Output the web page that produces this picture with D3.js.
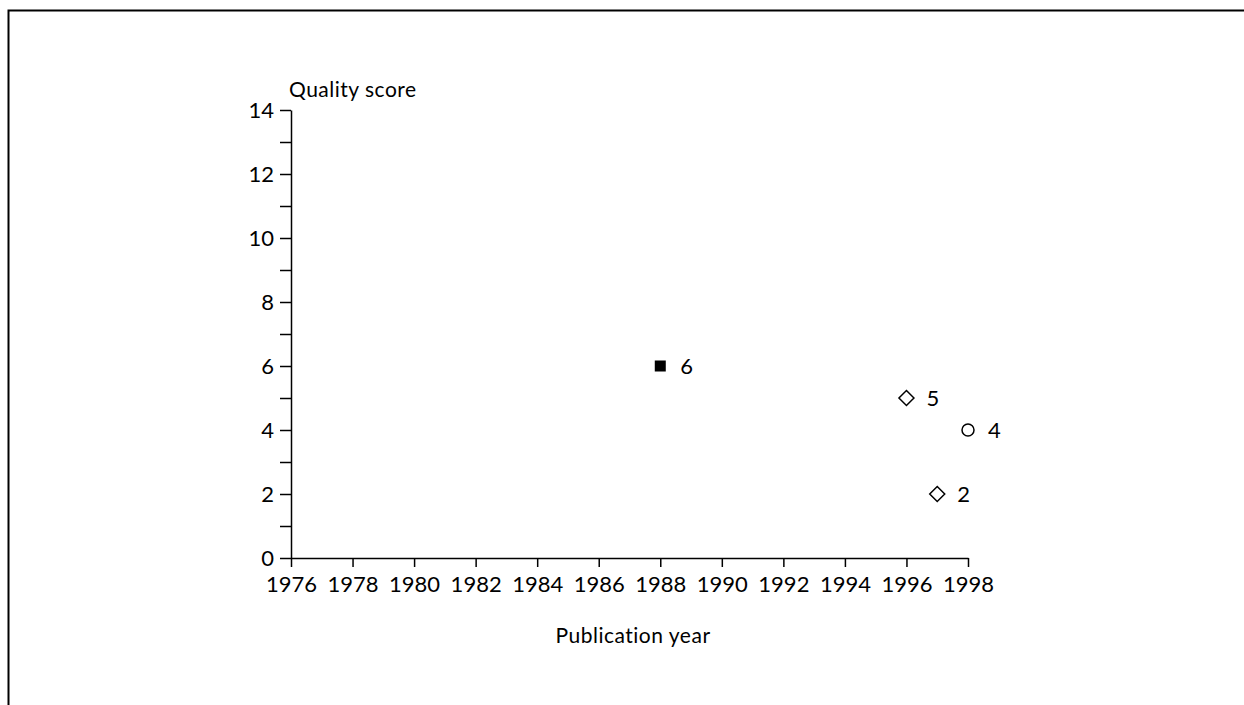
<!DOCTYPE html>
<html>
<head>
<meta charset="utf-8">
<script src="https://cdn.jsdelivr.net/npm/d3@7"></script>
<style>
  html, body { margin: 0; padding: 0; background: #fff; }
  svg { display: block; }
  text { font-family: Lato, "Open Sans", sans-serif; fill: #000; }
</style>
</head>
<body>
<svg id="chart" width="1244" height="705"></svg>
<script>
// Study quality scores by publication year
const years = [1988, 1996, 1998, 1997];
const scores = [6, 5, 4, 2];
const shapes = ["filledSquare", "diamond", "circle", "diamond"];
const xTickValues = [1976, 1978, 1980, 1982, 1984, 1986, 1988, 1990, 1992, 1994, 1996, 1998];
const yMajorTicks = [0, 2, 4, 6, 8, 10, 12, 14];
const yMinorTicks = [1, 3, 5, 7, 9, 11, 13];

const svg = d3.select("#chart");

// frame lines (top and left)
svg.append("path")
  .attr("d", "M8.5,705 L8.5,10.5 L1244,10.5")
  .attr("fill", "none")
  .attr("stroke", "#000")
  .attr("stroke-width", 2);

const x = d3.scaleLinear().domain([1976, 1998]).range([291, 968]);
const y = d3.scaleLinear().domain([0, 14]).range([558, 110]);

const fontSize = 21;
const tickFont = 22;

// x axis
const xAxis = svg.append("g")
  .attr("transform", `translate(0,${y(0)})`)
  .call(d3.axisBottom(x).tickValues(xTickValues).tickFormat(d3.format("d")).tickSize(9).tickPadding(9).tickSizeOuter(0));
xAxis.select(".domain").attr("stroke-width", 1.5);
xAxis.selectAll(".tick line").attr("stroke-width", 1.5);
xAxis.selectAll("text").style("font-size", tickFont + "px").style("font-family", "Lato, sans-serif");

// y axis: minor ticks then labelled major ticks
svg.append("g")
  .attr("transform", `translate(${x(1976)},0)`)
  .call(d3.axisLeft(y).tickValues(yMinorTicks).tickFormat("").tickSize(11).tickSizeOuter(0))
  .call(g => g.select(".domain").remove())
  .selectAll(".tick line").attr("stroke-width", 1.5);

const yAxis = svg.append("g")
  .attr("transform", `translate(${x(1976)},0)`)
  .call(d3.axisLeft(y).tickValues(yMajorTicks).tickSize(11).tickPadding(6).tickSizeOuter(0));
yAxis.select(".domain").attr("stroke-width", 1.5);
yAxis.selectAll(".tick line").attr("stroke-width", 1.5);
yAxis.selectAll("text").style("font-size", tickFont + "px").style("font-family", "Lato, sans-serif");

// axis titles
svg.append("text")
  .attr("x", 289).attr("y", 97)
  .style("font-size", fontSize + "px")
  .style("letter-spacing", "0.5px")
  .text("Quality score");

svg.append("text")
  .attr("x", 633).attr("y", 643)
  .attr("text-anchor", "middle")
  .style("font-size", fontSize + "px")
  .style("letter-spacing", "0.5px")
  .text("Publication year");

// points
const points = years.map((yr, i) => ({ year: yr, score: scores[i], shape: shapes[i] }));

const g = svg.append("g");
points.forEach(p => {
  const cx = x(p.year), cy = y(p.score);
  if (p.shape === "filledSquare") {
    g.append("rect")
      .attr("x", cx - 5.5).attr("y", cy - 5.5)
      .attr("width", 11).attr("height", 11)
      .attr("fill", "#000");
  } else if (p.shape === "diamond") {
    g.append("path")
      .attr("d", `M${cx},${cy - 7.5} L${cx + 7.5},${cy} L${cx},${cy + 7.5} L${cx - 7.5},${cy} Z`)
      .attr("fill", "#fff").attr("stroke", "#000").attr("stroke-width", 1.5);
  } else {
    g.append("circle")
      .attr("cx", cx).attr("cy", cy).attr("r", 6)
      .attr("fill", "#fff").attr("stroke", "#000").attr("stroke-width", 1.5);
  }
  g.append("text")
    .attr("x", cx + 20).attr("y", cy)
    .attr("dy", "0.35em")
    .style("font-size", tickFont + "px")
    .text(p.score);
});
</script>
</body>
</html>
